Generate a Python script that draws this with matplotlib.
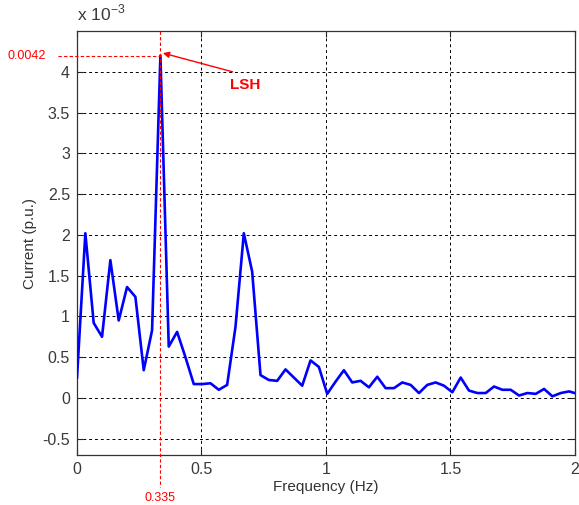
import numpy as np
import matplotlib
matplotlib.use("Agg")
import matplotlib.pyplot as plt

plt.rcParams["font.family"] = ["Liberation Sans", "DejaVu Sans"]
plt.rcParams["mathtext.fontset"] = "custom"
plt.rcParams["mathtext.rm"] = "Liberation Sans"

# spectrum of stator current, amplitude in units of 1e-3 p.u.
df = 0.0335
amplitude = [
    0.25, 2.02, 0.92, 0.75, 1.69, 0.95, 1.36, 1.24, 0.34, 0.83,
    4.20, 0.63, 0.81, 0.50, 0.17, 0.17, 0.18, 0.10, 0.16, 0.87,
    2.02, 1.55, 0.28, 0.22, 0.21, 0.35, 0.25, 0.15, 0.46, 0.38,
    0.05, 0.20, 0.34, 0.19, 0.21, 0.13, 0.26, 0.12, 0.12, 0.19,
    0.16, 0.06, 0.16, 0.19, 0.15, 0.07, 0.25, 0.09, 0.06, 0.06,
    0.14, 0.10, 0.10, 0.03, 0.06, 0.05, 0.11, 0.02, 0.06, 0.08,
    0.05,
]
freq = np.arange(len(amplitude)) * df

peak_idx = int(np.argmax(amplitude))
peak_f = 0.335
peak_val = amplitude[peak_idx]

xticks = [0, 0.5, 1, 1.5, 2]
yticks = [-0.5, 0, 0.5, 1, 1.5, 2, 2.5, 3, 3.5, 4]
ytick_labels = ["-0.5", "0", "0.5", "1", "1.5", "2", "2.5", "3", "3.5", "4"]

fig = plt.figure(figsize=(5.79, 5.05), dpi=100)
ax = fig.add_axes([0.133, 0.099, 0.860, 0.8395])

ax.plot(freq, amplitude, color="#0000ff", lw=1.9, zorder=3)

ax.set_xlim(0, 2)
ax.set_ylim(-0.7, 4.5)
ax.set_xticks(xticks)
ax.set_xticklabels(["0", "0.5", "1", "1.5", "2"])
ax.set_yticks(yticks)
ax.set_yticklabels(ytick_labels)
ax.tick_params(direction="in", length=4, width=0.8, labelsize=11.5,
               top=True, right=True, colors="#222222", labelcolor="#3a3a3a", pad=5)
ax.grid(True, color="black", linestyle=(0, (3, 3)), lw=0.7)
for s in ax.spines.values():
    s.set_color("#333333")
    s.set_linewidth(0.9)

ax.set_xlabel("Frequency (Hz)", fontsize=11, color="#333333", labelpad=2)
ax.set_ylabel("Current (p.u.)", fontsize=11, color="#333333", labelpad=4)
ax.text(0.0, 1.018, r"x 10$^{-3}$", transform=ax.transAxes, fontsize=12.5,
        color="#3a3a3a", ha="left", va="bottom")

# LSH marker lines
red = "#ff0000"
ax.plot([-0.076, peak_f], [peak_val, peak_val], color=red, lw=0.8,
        linestyle=(0, (3, 2)), clip_on=False, zorder=4)
ax.plot([peak_f, peak_f], [4.5, -1.09], color=red, lw=0.8,
        linestyle=(0, (3, 2)), clip_on=False, zorder=4)
ax.text(-0.125, peak_val, f"{peak_val * 1e-3:.4f}", color=red, fontsize=9,
        ha="right", va="center", clip_on=False)
ax.text(peak_f, -1.225, f"{peak_f:.3f}", color=red, fontsize=9,
        ha="center", va="center", clip_on=False)

ax.annotate("", xy=(peak_f + 0.01, peak_val + 0.03), xytext=(0.625, 4.0),
            arrowprops=dict(arrowstyle="-|>", color=red, lw=1.0,
                            mutation_scale=9, shrinkA=0, shrinkB=0))
ax.text(0.615, 3.93, "LSH", color=red, fontsize=11, fontweight="bold",
        ha="left", va="top")

fig.savefig("out.png", dpi=100)
